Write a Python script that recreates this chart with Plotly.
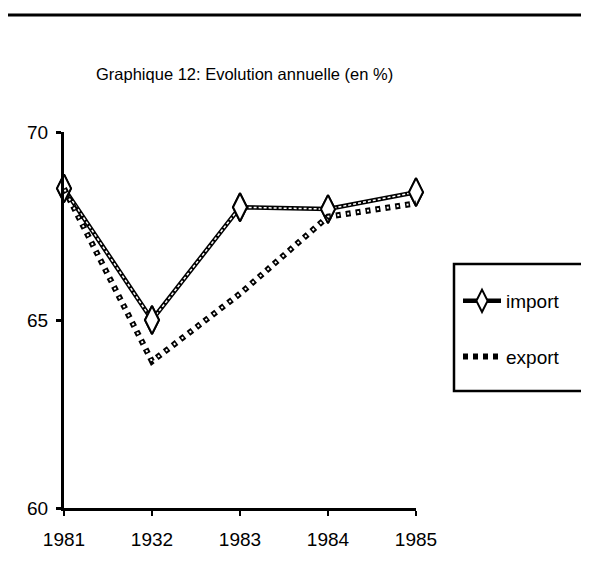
import plotly.graph_objects as go

years = ["1981", "1932", "1983", "1984", "1985"]
import_vals = [68.5, 65.0, 68.0, 67.95, 68.4]
export_vals = [68.5, 63.9, 65.7, 67.75, 68.1]
y_ticks = [60, 65, 70]

FONT = "Liberation Sans, Arial, sans-serif"
L, R, T, B = 56, 181, 124, 67
PW = 589 - L - R
PH = 567 - T - B


def px_x(v):
    return (v - L) / PW


def px_y(v):
    return (567 - B - v) / PH


fig = go.Figure()
# import: hollow chain-like line with open diamonds
fig.add_trace(go.Scatter(
    x=years, y=import_vals, name="import", legendgroup="a",
    mode="lines+markers",
    line=dict(color="black", width=4.5),
    marker=dict(symbol="diamond-tall", size=20, color="white",
                line=dict(color="black", width=2)),
    cliponaxis=False,
))
fig.add_trace(go.Scatter(
    x=years, y=import_vals, showlegend=False, hoverinfo="skip",
    mode="lines", line=dict(color="white", width=1.5, dash="3px,2px"),
    cliponaxis=False,
))
fig.add_trace(go.Scatter(
    x=years, y=import_vals, showlegend=False, hoverinfo="skip",
    mode="markers",
    marker=dict(symbol="diamond-tall", size=20, color="white",
                line=dict(color="black", width=2)),
    cliponaxis=False,
))
# export: row of small hollow squares
fig.add_trace(go.Scatter(
    x=years, y=export_vals, name="export", legendgroup="b",
    mode="lines",
    line=dict(color="black", width=6, dash="5px,5px"),
    cliponaxis=False,
))
fig.add_trace(go.Scatter(
    x=years, y=export_vals, showlegend=False, hoverinfo="skip",
    mode="lines",
    line=dict(color="white", width=2, dash="0px,1.5px,2px,6.5px"),
    cliponaxis=False,
))

fig.update_layout(
    width=589, height=567,
    margin=dict(l=L, r=R, t=T, b=B),
    paper_bgcolor="white", plot_bgcolor="white",
    font=dict(family=FONT, size=19, color="black"),
    title=dict(text="Graphique 12: Evolution annuelle (en %)",
               x=88/589, xanchor="left", y=1-66/567, yanchor="middle",
               font=dict(family=FONT, size=16.5, color="black")),
    showlegend=True,
    legend=dict(x=px_x(450), xanchor="left", y=px_y(274), yanchor="top",
                borderwidth=0, bgcolor="rgba(0,0,0,0)",
                traceorder="grouped", tracegroupgap=28,
                font=dict(family=FONT, size=19),
                itemwidth=38),
    xaxis=dict(type="category", range=[0, 4], showline=True, linecolor="black",
               linewidth=3, ticks="outside", ticklen=5, tickcolor="black",
               tickwidth=2, showgrid=False, zeroline=False,
               ticklabelstandoff=7,
               tickfont=dict(family=FONT, size=19)),
    yaxis=dict(range=[60, 70], tickvals=y_ticks, showline=True, linecolor="black",
               linewidth=3, ticks="outside", ticklen=5, tickcolor="black",
               tickwidth=3, showgrid=False, zeroline=False,
               ticklabelstandoff=4,
               tickfont=dict(family=FONT, size=19)),
    shapes=[
        dict(type="line", xref="paper", yref="paper",
             x0=px_x(0), x1=px_x(589), y0=px_y(7), y1=px_y(7),
             line=dict(color="black", width=3)),
        dict(type="rect", xref="paper", yref="paper", layer="below",
             x0=px_x(446), x1=px_x(579), y0=px_y(383), y1=px_y(256),
             line=dict(color="black", width=2.5), fillcolor="white"),
    ],
)

fig.write_html("out.html")
